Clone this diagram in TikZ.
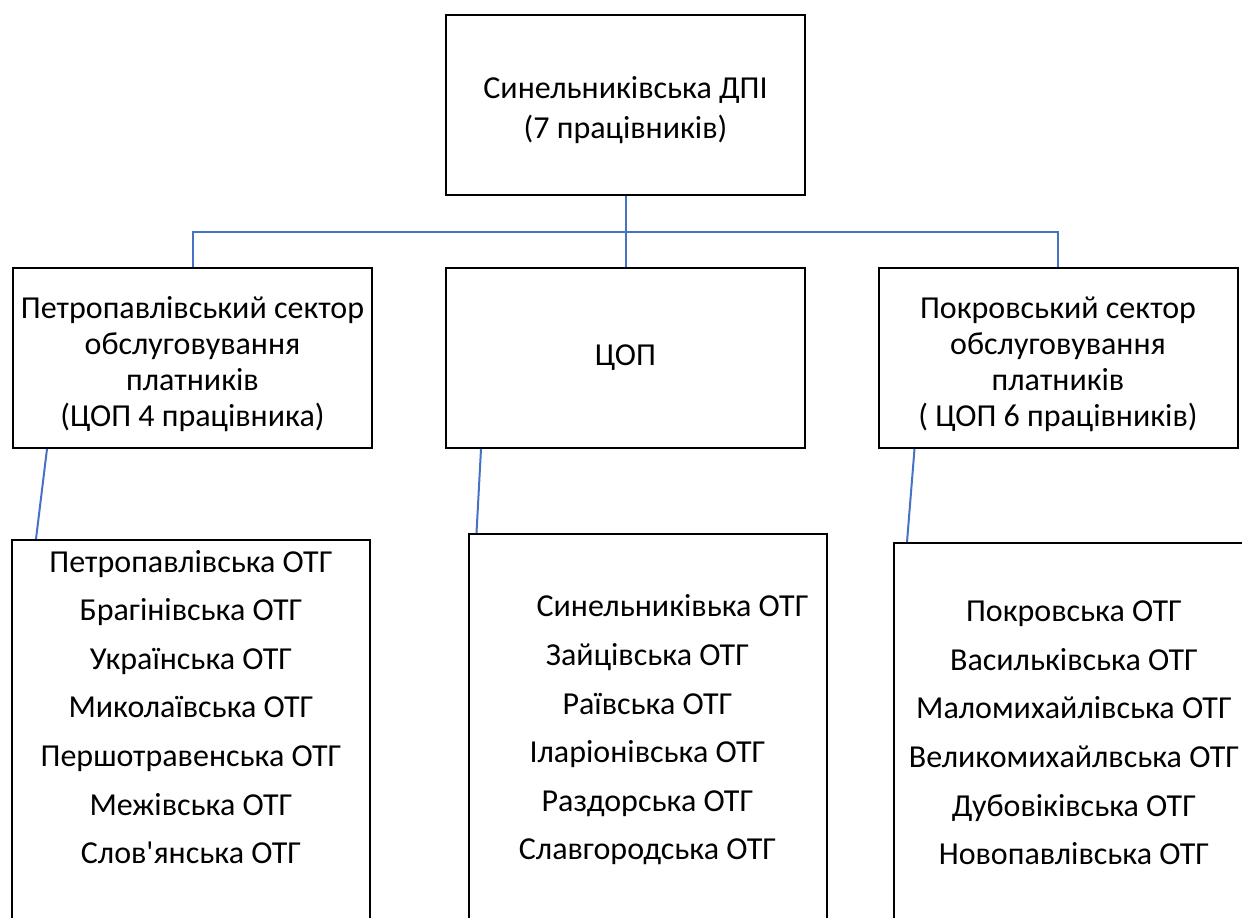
\documentclass[tikz,border=0pt]{standalone}
\usepackage{fontspec}
\setmainfont{Carlito}[Ligatures=TeXOff]
\usetikzlibrary{positioning}
\definecolor{lnblue}{HTML}{4472C4}
\newcommand\dropln{\rule{0pt}{17pt}}

\begin{document}
\begin{tikzpicture}[x=0.5pt,y=-0.5pt,
  font=\fontsize{16}{18}\selectfont,
  b/.style={draw,line width=1pt,inner sep=0pt,minimum width=179.5pt,minimum height=90pt,align=center},
  lb/.style={draw,line width=1pt,inner sep=0pt,minimum width=179pt,minimum height=225pt},
  l/.style={align=center,font=\fontsize{16}{24.3}\selectfont},
  c/.style={draw=lnblue,line width=1pt}]
\useasboundingbox (0,0) rectangle (1242,917);
\clip (0,0) rectangle (1242,917);
% top level
\node[b,font=\fontsize{16}{20}\selectfont] (dpi) at (625.5,104.5) {\dropln Синельниківська ДПІ\\(7 працівників)};
% sectors
\node[b] (pet) at (192.5,358) {\dropln Петропавлівський сектор\\обслуговування\\платників\\(ЦОП 4 працівника)};
\node[b] (cop) at (625.5,358) {ЦОП};
\node[b] (pok) at (1058,358) {\dropln Покровський сектор\\обслуговування\\платників\\( ЦОП 6 працівників)};
% communities
\node[lb] (petL) at (191,765) {};
\node[lb] (copL) at (647.5,759) {};
\node[lb] (pokL) at (1073,768) {};
\node[l] (petT) at (191,707) {Петропавлівська ОТГ\\Брагінівська ОТГ\\Українська ОТГ\\Миколаївська ОТГ\\Першотравенська ОТГ\\Межівська ОТГ\\Слов'янська ОТГ};
\node[l] (copT) at (647.5,730) {\hspace*{25pt}Синельниківька ОТГ\\Зайцівська ОТГ\\Раївська ОТГ\\Іларіонівська ОТГ\\Раздорська ОТГ\\Славгородська ОТГ};
\node[l] (pokT) at (1074,733) {Покровська ОТГ\\Васильківська ОТГ\\Маломихайлівська ОТГ\\Великомихайлвська ОТГ\\Дубовіківська ОТГ\\Новопавлівська ОТГ};
% links
\coordinate (bus) at (625.5,232);
\draw[c] (dpi.south) -- (bus);
\draw[c] (pet.north) |- (bus) -| (pok.north);
\draw[c] (bus) -- (cop.north);
\draw[c] ([xshift=17.5pt]pet.south west) -- ([xshift=12.5pt]petL.north west);
\draw[c] ([xshift=18pt]cop.south west) -- ([xshift=4.5pt]copL.north west);
\draw[c] ([xshift=18.5pt]pok.south west) -- ([xshift=7pt]pokL.north west);
\end{tikzpicture}
\end{document}
